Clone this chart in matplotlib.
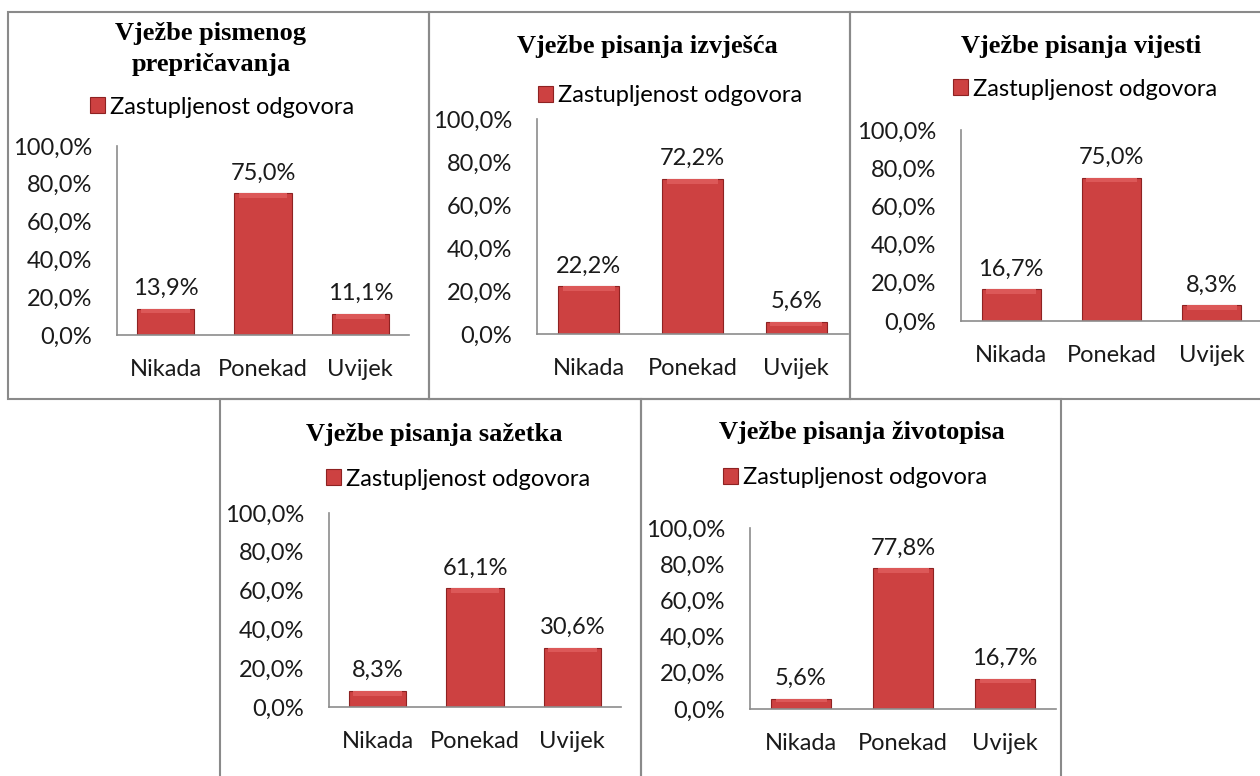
import matplotlib
matplotlib.use("Agg")
import matplotlib.pyplot as plt
from matplotlib.patches import Rectangle
from matplotlib.ticker import FuncFormatter

W, H = 1260, 776

categories = ["Nikada", "Ponekad", "Uvijek"]
series_name = "Zastupljenost odgovora"

titles = [
    "Vježbe pismenog\nprepričavanja",
    "Vježbe pisanja izvješća",
    "Vježbe pisanja vijesti",
    "Vježbe pisanja sažetka",
    "Vježbe pisanja životopisa",
]
prepricavanje = [13.9, 75.0, 11.1]
izvjesce = [22.2, 72.2, 5.6]
vijesti = [16.7, 75.0, 8.3]
sazetak = [8.3, 61.1, 30.6]
zivotopis = [5.6, 77.8, 16.7]
all_values = [prepricavanje, izvjesce, vijesti, sazetak, zivotopis]

# layout in pixels (top-left origin): frame box, plot area, title pos, legend centre
frames = [(8, 12, 429, 399), (429, 12, 850, 399), (850, 12, 1264, 399),
          (220, 399, 641, 780), (641, 399, 1061, 780)]
plot_areas = [(117, 146, 409, 335), (537, 119, 848, 334), (961, 130, 1262, 321),
              (329, 513, 621, 707), (750, 528, 1056, 709)]
title_pos = [(211, 49), (647, 47), (1081, 47), (434, 435), (862, 433)]
legend_pos = [(222, 107), (670, 96), (1085, 89), (458, 479), (855, 478)]

FONT = "Lato"
FS = 17
BAR = "#CD4141"
BAR_EDGE = "#8E2222"
BAR_TOP = "#DC5858"
AXIS = "#8C8C8C"


def fx(x):
    return x / W


def fy(y):
    return 1 - y / H


def pct(v, _pos=None):
    return f"{v:.1f}%".replace(".", ",")


fig = plt.figure(figsize=(W / 100, H / 100), dpi=100)

for i, values in enumerate(all_values):
    x0, y0, x1, y1 = frames[i]
    fig.add_artist(Rectangle((fx(x0), fy(y1)), (x1 - x0) / W, (y1 - y0) / H,
                             transform=fig.transFigure, fill=False,
                             edgecolor="#8A8A8A", linewidth=1.5))

    a0, b0, a1, b1 = plot_areas[i]
    ax = fig.add_axes([fx(a0), fy(b1), (a1 - a0) / W, (b1 - b0) / H])
    xs = range(len(categories))
    bars = ax.bar(xs, values, width=0.59, color=BAR, edgecolor=BAR_EDGE,
                  linewidth=0.8, label=series_name, zorder=2)
    # lighter bevel strip on the top of each bar
    bevel = [min(2.4, v * 0.35) for v in values]
    ax.bar(xs, bevel, bottom=[v - b for v, b in zip(values, bevel)], width=0.5,
           color=BAR_TOP, linewidth=0, zorder=3)
    ax.bar_label(bars, labels=[pct(v) for v in values], padding=7,
                 fontsize=FS, family=FONT, color="#1a1a1a")

    ax.set_xlim(-0.5, 2.5)
    ax.set_ylim(0, 100)
    ax.set_yticks([0, 20, 40, 60, 80, 100])
    ax.yaxis.set_major_formatter(FuncFormatter(pct))
    ax.set_xticks(list(xs))
    ax.set_xticklabels(categories)
    for s in ("top", "right"):
        ax.spines[s].set_visible(False)
    for s in ("left", "bottom"):
        ax.spines[s].set_color(AXIS)
        ax.spines[s].set_linewidth(1.2)
    ax.tick_params(length=0, labelsize=FS, colors="#1a1a1a")
    ax.tick_params(axis="y", pad=18)
    ax.tick_params(axis="x", pad=17)
    for lab in ax.get_xticklabels() + ax.get_yticklabels():
        lab.set_family(FONT)
    ax.patch.set_alpha(0)

    tx, ty = title_pos[i]
    fig.text(fx(tx), fy(ty), titles[i], ha="center", va="center",
             family="Liberation Serif", fontweight="bold", fontsize=19,
             linespacing=1.4)

    lx, ly = legend_pos[i]
    ax.legend(handles=[bars], loc="center", bbox_to_anchor=(fx(lx), fy(ly)),
              bbox_transform=fig.transFigure, frameon=False,
              prop={"family": FONT, "size": FS}, handlelength=0.65,
              handleheight=0.65, handletextpad=0.2, borderpad=0)

fig.savefig("out.png", dpi=100)
